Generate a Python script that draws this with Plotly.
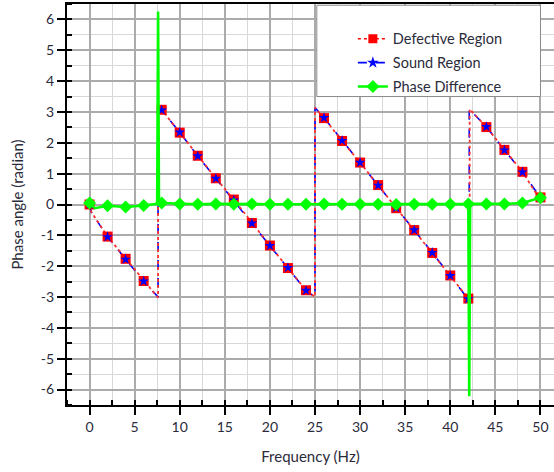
import plotly.graph_objects as go

# ---- data ----
freq = [0, 2, 4, 6, 8, 10, 12, 14, 16, 18, 20, 22, 24, 26, 28, 30, 32, 34, 36, 38, 40, 42, 44, 46, 48, 50]
defective = [0.00, -1.04, -1.76, -2.48, 3.07, 2.33, 1.58, 0.85, 0.16, -0.60, -1.33, -2.06, -2.78,
             2.80, 2.06, 1.36, 0.63, -0.12, -0.83, -1.57, -2.30, -3.05, 2.51, 1.77, 1.06, 0.23]
sound = [0.00, -1.05, -1.78, -2.49, 3.06, 2.34, 1.57, 0.84, 0.14, -0.61, -1.34, -2.05, -2.79,
         2.81, 2.07, 1.36, 0.62, -0.11, -0.83, -1.56, -2.31, -3.06, 2.52, 1.76, 1.05, 0.22]
phase_diff = [0.05, -0.04, -0.08, -0.03, 0.05, 0.02, 0.01, 0.02, 0.01, 0.02, 0.01, 0.01, 0.01,
              0.02, 0.01, 0.01, 0.01, 0.00, 0.01, 0.01, 0.01, 0.02, 0.02, 0.02, 0.05, 0.22]

# connecting-line samples including the phase-wrap jumps
def_line_f = [0, 0.2, 2, 4, 6, 7.6, 7.6, 8, 10, 12, 14, 16, 18, 20, 22, 24, 25.0, 25.0,
              26, 28, 30, 32, 34, 36, 38, 40, 42, 42.15, 42.15, 44, 46, 48, 49.8]
def_line_v = [0.00, -0.25, -1.04, -1.76, -2.48, -3.02, 3.20, 3.07, 2.33, 1.58, 0.85, 0.16, -0.60,
              -1.33, -2.06, -2.78, -3.00, 3.14, 2.80, 2.06, 1.36, 0.63, -0.12, -0.83, -1.57,
              -2.30, -3.05, -3.14, 3.09, 2.51, 1.77, 1.06, 0.23]
snd_line_f = [0, 0.2, 2, 4, 6, 7.6, 7.6, 8, 10, 12, 14, 16, 18, 20, 22, 24, 25.0, 25.0,
              26, 28, 30, 32, 34, 36, 38, 40, 42, 42.1, 42.1, 44, 46, 48, 50]
snd_line_v = [0.00, -0.25, -1.05, -1.78, -2.49, -3.00, 3.15, 3.06, 2.34, 1.57, 0.84, 0.14, -0.61,
              -1.34, -2.05, -2.79, -3.00, 3.14, 2.81, 2.07, 1.36, 0.62, -0.11, -0.83, -1.56,
              -2.31, -3.06, -3.12, 3.09, 2.52, 1.76, 1.05, 0.22]
pd_line_f = [0, 0.6, 2, 4, 6, 7.5, 7.6, 7.7, 8, 10, 12, 14, 16, 18, 20, 22, 24, 26, 28, 30,
             32, 34, 36, 38, 40, 42, 42.1, 42.2, 44, 46, 48, 50]
pd_line_v = [0.05, -0.12, -0.04, -0.08, -0.03, 0.02, 6.26, 0.02, 0.05, 0.02, 0.01, 0.02, 0.01,
             0.02, 0.01, 0.01, 0.01, 0.02, 0.01, 0.01, 0.01, 0.00, 0.01, 0.01, 0.01, 0.02,
             -6.22, 0.02, 0.02, 0.02, 0.05, 0.22]

x_ticks = [0, 5, 10, 15, 20, 25, 30, 35, 40, 45, 50]
y_ticks = [-6, -5, -4, -3, -2, -1, 0, 1, 2, 3, 4, 5, 6]
y_tick_text = ["-6", "-5", "-4", "-3", "-2", "-1", "0", "1", "2", "3", "4", "5", "6"]

RED = "#ff0000"
BLUE = "#0000ff"
GREEN = "#00ff00"
TXT = "#2b2b3b"
FONT = "Lato"

fig = go.Figure()

# lines (blue below, red dotted on top)
fig.add_trace(go.Scatter(x=snd_line_f, y=snd_line_v, mode="lines",
                         line=dict(color=BLUE, width=1.6, dash="dash"), showlegend=False))
fig.add_trace(go.Scatter(x=def_line_f, y=def_line_v, mode="lines",
                         line=dict(color="#ff3030", width=1.8, dash="dot"), showlegend=False))
# markers
fig.add_trace(go.Scatter(x=freq, y=defective, mode="markers",
                         marker=dict(symbol="square", size=10, color=RED), showlegend=False))
fig.add_trace(go.Scatter(x=freq, y=sound, mode="markers",
                         marker=dict(symbol="star", size=8, color=BLUE), showlegend=False))
fig.add_trace(go.Scatter(x=pd_line_f, y=pd_line_v, mode="lines",
                         line=dict(color=GREEN, width=2.6), showlegend=False))
fig.add_trace(go.Scatter(x=freq, y=phase_diff, mode="markers",
                         marker=dict(symbol="diamond", size=10, color=GREEN), showlegend=False))

# legend entries
fig.add_trace(go.Scatter(x=[None], y=[None], mode="lines+markers", name="Defective Region",
                         legendgroup="a",
                         line=dict(color=RED, width=1.6, dash="dot"),
                         marker=dict(symbol="square", size=9, color=RED)))
fig.add_trace(go.Scatter(x=[None], y=[None], mode="lines+markers", name="Sound Region",
                         legendgroup="b",
                         line=dict(color=BLUE, width=1.6, dash="dash"),
                         marker=dict(symbol="star", size=9, color=BLUE)))
fig.add_trace(go.Scatter(x=[None], y=[None], mode="lines+markers", name="Phase Difference",
                         legendgroup="c",
                         line=dict(color=GREEN, width=2.6),
                         marker=dict(symbol="diamond", size=10, color=GREEN)))

fig.add_shape(type="rect", xref="x", yref="y", x0=25.2, x1=50, y0=3.5, y1=6.46,
              fillcolor="white", line=dict(color="#8a8a8a", width=1), layer="between")

fig.update_layout(
    width=554, height=472,
    margin=dict(l=67, r=0, t=4, b=67),
    paper_bgcolor="white", plot_bgcolor="white",
    font=dict(family=FONT, color=TXT, size=14),
    legend=dict(x=0.587, y=0.953, xanchor="left", yanchor="top",
                bgcolor="rgba(0,0,0,0)", borderwidth=0,
                traceorder="grouped", tracegroupgap=2,
                font=dict(family=FONT, size=14.5, color=TXT)),
    xaxis=dict(range=[-2.5, 51.5], tickmode="array", tickvals=x_ticks,
               showline=True, linecolor="black", linewidth=2, mirror=True,
               ticks="outside", ticklen=8, tickwidth=2, tickcolor="black",
               showgrid=True, gridcolor="#ababab", gridwidth=1.6, zeroline=False,
               minor=dict(dtick=2.5, ticks="inside", ticklen=5, tickwidth=1.5,
                          tickcolor="black", showgrid=True, gridcolor="#d8d8d8", gridwidth=1.4),
               tickfont=dict(size=14, color=TXT),
               title=dict(text="Frequency (Hz)", font=dict(size=15, color=TXT), standoff=18)),
    yaxis=dict(range=[-6.5, 6.5], tickmode="array", tickvals=y_ticks, ticktext=y_tick_text,
               showline=True, linecolor="black", linewidth=2,
               ticks="outside", ticklen=8, tickwidth=2, tickcolor="black",
               showgrid=True, gridcolor="#ababab", gridwidth=1.6, zeroline=False,
               minor=dict(dtick=0.5, ticks="inside", ticklen=5, tickwidth=1.5,
                          tickcolor="black", showgrid=True, gridcolor="#d8d8d8", gridwidth=1.4),
               tickfont=dict(size=14, color=TXT),
               title=dict(text="Phase angle (radian)", font=dict(size=15, color=TXT), standoff=14)),
)

fig.write_html("out.html")
